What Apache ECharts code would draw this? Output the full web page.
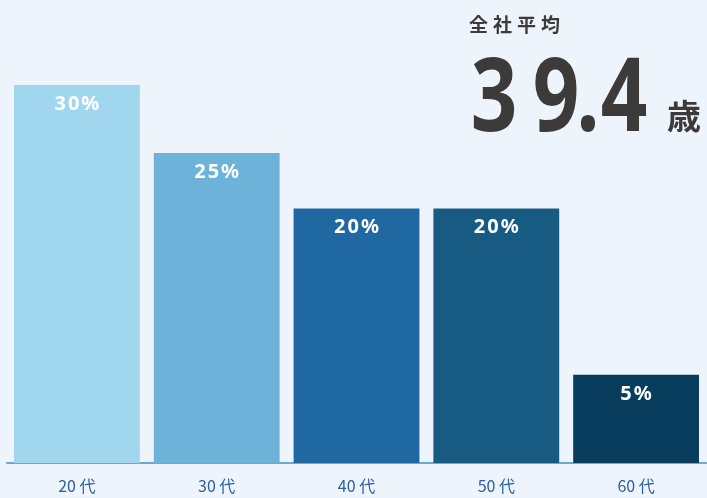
<!DOCTYPE html>
<html lang="ja" style="height: 100%">
<head>
<meta charset="utf-8">
<title>年齢構成</title>
</head>
<body style="height: 100%; margin: 0; background: #eef4fb">
<div id="container" style="height: 100%"></div>

<script type="text/javascript" src="https://cdn.jsdelivr.net/npm/echarts@6/dist/echarts.min.js"></script>

<script type="text/javascript">
var dom = document.getElementById('container');
var myChart = echarts.init(dom);

// age groups
var categories = ['20 代', '30 代', '40 代', '50 代', '60 代'];
// bar heights as drawn in the picture (in % units)
var barValues = [30, 24.6, 20.2, 20.2, 7];
// labels printed on the bars
var barLabels = ['30%', '25%', '20%', '20%', '5%'];
var barColors = ['#a0d7ee', '#6db2d9', '#2068a1', '#175a82', '#083d5e'];

var averageTitle = '全社平均';
var averageAge = '39.4';
var ageUnit = '歳';

// spaced-out text via rich tokens (canvas ignores letterSpacing)
function spaced(str, styleName) {
  return str.split('').map(function (c) {
    return '{' + styleName + '|' + c + '}';
  }).join('');
}

// centres of the big digits, in px
var digitCenters = [494, 556, 588, 624];

var graphics = [
  {
    type: 'text',
    left: 469,
    top: 15,
    style: {
      text: spaced(averageTitle, 'c'),
      rich: {
        c: {
          width: 24,
          align: 'left',
          fill: '#3d3a3a',
          font: 'bold 19px "Noto Sans CJK JP"'
        }
      }
    }
  },
  {
    type: 'text',
    left: 667,
    top: 99,
    style: {
      text: ageUnit,
      fill: '#3d3a3a',
      font: 'bold 34px "Noto Sans CJK JP"'
    }
  }
];

averageAge.split('').forEach(function (c, i) {
  graphics.push({
    type: 'text',
    x: digitCenters[i],
    y: 51,
    scaleX: 0.8,
    style: {
      text: c,
      x: 0,
      y: 0,
      align: 'center',
      verticalAlign: 'top',
      fill: '#3d3a3a',
      font: 'bold 102px "Noto Sans"'
    }
  });
});

var option = {
  backgroundColor: '#eef4fb',
  animation: false,
  grid: {
    left: 7,
    right: 1,
    top: 85,
    bottom: 35
  },
  xAxis: {
    type: 'category',
    data: categories,
    axisTick: { show: false },
    axisLine: { lineStyle: { color: '#6aaad0', width: 2 } },
    axisLabel: {
      color: '#2c5f9c',
      fontSize: 16,
      fontFamily: 'Noto Sans CJK JP',
      margin: 15
    }
  },
  yAxis: {
    type: 'value',
    min: 0,
    max: 30,
    show: false,
    splitLine: { show: false }
  },
  series: [{
    type: 'bar',
    barCategoryGap: '10%',
    data: barValues.map(function (v, i) {
      return {
        value: v,
        itemStyle: { color: barColors[i] },
        label: { formatter: spaced(barLabels[i], 'p') }
      };
    }),
    label: {
      show: true,
      position: 'insideTop',
      distance: 9,
      rich: {
        p: {
          color: '#ffffff',
          fontSize: 20,
          fontWeight: 'bold',
          fontFamily: 'Noto Sans',
          padding: [0, 1]
        }
      }
    }
  }],
  graphic: graphics
};

myChart.setOption(option);
window.addEventListener('resize', myChart.resize);
</script>
</body>
</html>
